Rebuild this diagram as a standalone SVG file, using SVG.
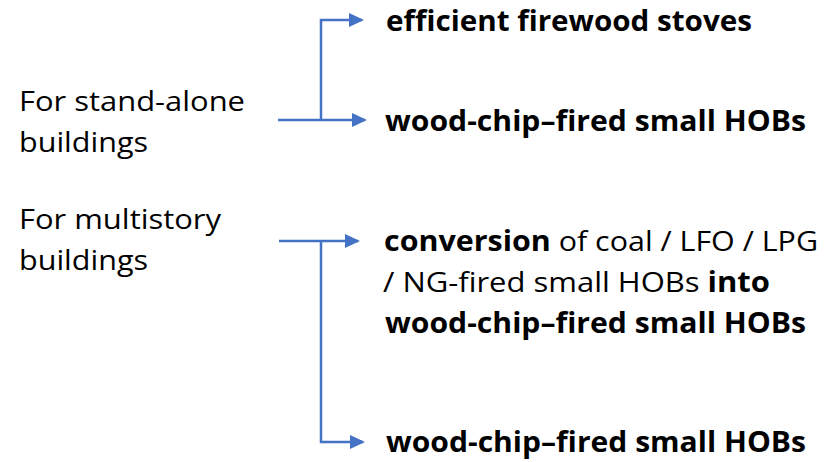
<svg xmlns="http://www.w3.org/2000/svg" width="836" height="462" viewBox="0 0 836 462">
  <style>
    text { font-family: "Open Sans", "Noto Sans", "Liberation Sans", sans-serif; font-size: 28px; fill: #000; }
    .b { font-weight: bold; }
    .n { font-weight: normal; }
    .conn { fill: none; stroke: #4472C4; stroke-width: 2.5; }
  </style>
  <defs>
    <marker id="arr" markerUnits="userSpaceOnUse" markerWidth="16" markerHeight="15" refX="13" refY="7" orient="auto">
      <path d="M0,0 L15,7 L0,14 z" fill="#4472C4"/>
    </marker>
  </defs>
  <rect width="836" height="462" fill="#fff"/>

  <g id="connectors">
    <path class="conn" d="M278,120 H365" marker-end="url(#arr)"/>
    <path class="conn" d="M321,120 V20 H362" marker-end="url(#arr)"/>
    <path class="conn" d="M279,241 H358" marker-end="url(#arr)"/>
    <path class="conn" d="M321,241 V442 H363" marker-end="url(#arr)"/>
  </g>

  <g id="standalone">
    <text x="19" y="111" textLength="226" lengthAdjust="spacingAndGlyphs">For stand-alone</text>
    <text x="19" y="152" textLength="129" lengthAdjust="spacingAndGlyphs">buildings</text>
  </g>
  <g id="multistory">
    <text x="19" y="229" textLength="202" lengthAdjust="spacingAndGlyphs">For multistory</text>
    <text x="19" y="270" textLength="129" lengthAdjust="spacingAndGlyphs">buildings</text>
  </g>
  <g id="firewood-stoves">
    <text class="b" x="386" y="31" textLength="366" lengthAdjust="spacingAndGlyphs">efficient firewood stoves</text>
  </g>
  <g id="small-hobs-1">
    <text class="b" x="385" y="131" textLength="421" lengthAdjust="spacingAndGlyphs">wood-chip–fired small HOBs</text>
  </g>
  <g id="conversion">
    <text x="384" y="251" textLength="434" lengthAdjust="spacingAndGlyphs"><tspan class="b">conversion</tspan> of coal / LFO / LPG</text>
    <text x="383" y="292" textLength="387" lengthAdjust="spacingAndGlyphs">/ NG-fired small HOBs <tspan class="b">into</tspan></text>
    <text class="b" x="385" y="333" textLength="421" lengthAdjust="spacingAndGlyphs">wood-chip–fired small HOBs</text>
  </g>
  <g id="small-hobs-2">
    <text class="b" x="386" y="452" textLength="420" lengthAdjust="spacingAndGlyphs">wood-chip–fired small HOBs</text>
  </g>
</svg>
